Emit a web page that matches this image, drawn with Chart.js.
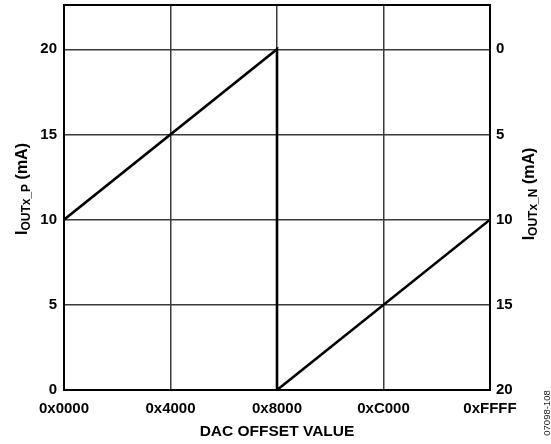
<!DOCTYPE html>
<html>
<head>
<meta charset="utf-8">
<script src="https://cdn.jsdelivr.net/npm/chart.js@4/dist/chart.umd.min.js"></script>
<style>
  html, body { margin: 0; padding: 0; background: #fff; }
  #wrap { width: 551px; height: 444px; }
</style>
</head>
<body>
<div id="wrap"><canvas id="chart" width="551" height="444"></canvas></div>
<script>
// DAC offset code vs output current (IOUTx_P on left, IOUTx_N = 20 - P on right)
const dacCodes = [0, 32768, 32768, 65535];
const ioutP = [10, 20, 0, 10];

const xTickValues = [0, 16384, 32768, 49152, 65535];
const xTickLabels = ['0x0000', '0x4000', '0x8000', '0xC000', '0xFFFF'];
const leftTicks = [0, 5, 10, 15, 20];
const rightTicks = [0, 5, 10, 15, 20];

const FONT = '"Liberation Sans", Arial, Helvetica, sans-serif';
const GRID = '#3a3a3a';

// draws the rotated axis titles with subscripts, the frame and the figure code
const extrasPlugin = {
    id: 'extras',
    afterDraw(chart) {
        const ctx = chart.ctx;
        const area = chart.chartArea;

        ctx.save();
        ctx.strokeStyle = '#000';
        ctx.lineWidth = 2;
        ctx.strokeRect(area.left, area.top, area.right - area.left, area.bottom - area.top);
        ctx.restore();

        drawSubTitle(ctx, 23, 189, 'I', 'OUTx_P', ' (mA)');
        drawSubTitle(ctx, 530, 194, 'I', 'OUTx_N', ' (mA)');

        ctx.save();
        ctx.fillStyle = '#000';
        ctx.font = 'bold 15.5px ' + FONT;
        ctx.textAlign = 'center';
        ctx.textBaseline = 'middle';
        ctx.fillText('DAC OFFSET VALUE', (area.left + area.right) / 2, 432);
        ctx.restore();

        ctx.save();
        ctx.translate(547, 413);
        ctx.rotate(-Math.PI / 2);
        ctx.fillStyle = '#222';
        ctx.font = '9.5px ' + FONT;
        ctx.textAlign = 'center';
        ctx.textBaseline = 'middle';
        ctx.fillText('07098-108', 0, 0);
        ctx.restore();
    }
};

function drawSubTitle(ctx, cx, cy, main, sub, rest) {
    const big = 'bold 16px ' + FONT;
    const small = 'bold 12px ' + FONT;
    ctx.save();
    ctx.translate(cx, cy);
    ctx.rotate(-Math.PI / 2);
    ctx.fillStyle = '#000';
    ctx.textBaseline = 'middle';
    ctx.textAlign = 'left';
    ctx.font = big;
    const w1 = ctx.measureText(main).width;
    const w3 = ctx.measureText(rest).width;
    ctx.font = small;
    const w2 = ctx.measureText(sub).width;
    let x = -(w1 + w2 + w3) / 2;
    ctx.font = big;
    ctx.fillText(main, x, 0);
    x += w1;
    ctx.font = small;
    ctx.fillText(sub, x, 4);
    x += w2;
    ctx.font = big;
    ctx.fillText(rest, x, 0);
    ctx.restore();
}

function noPad(s) {
    s.paddingTop = 0;
    s.paddingBottom = 0;
    s.paddingLeft = 0;
    s.paddingRight = 0;
}

new Chart(document.getElementById('chart'), {
    type: 'line',
    data: {
        datasets: [{
            label: 'IOUTx_P',
            data: dacCodes.map((c, i) => ({ x: c, y: ioutP[i] })),
            borderColor: '#000',
            borderWidth: 2.6,
            pointRadius: 0,
            tension: 0,
            fill: false,
            yAxisID: 'y'
        }]
    },
    options: {
        responsive: false,
        animation: false,
        events: [],
        layout: { padding: { top: 5, left: 0, right: 0, bottom: 0 } },
        plugins: {
            legend: { display: false },
            tooltip: { enabled: false }
        },
        scales: {
            x: {
                type: 'linear',
                min: 0,
                max: 65535,
                afterBuildTicks: s => { s.ticks = xTickValues.map(v => ({ value: v })); },
                afterFit: s => { s.height = 54; noPad(s); },
                grid: { color: GRID, lineWidth: 1.5, drawTicks: false },
                border: { display: false },
                ticks: {
                    padding: 10,
                    color: '#000',
                    font: { family: FONT, size: 15, weight: 'bold' },
                    maxRotation: 0,
                    autoSkip: false,
                    callback: v => xTickLabels[xTickValues.indexOf(v)]
                }
            },
            y: {
                position: 'left',
                min: 0,
                max: 22.6,
                afterBuildTicks: s => { s.ticks = leftTicks.map(v => ({ value: v })); },
                afterFit: s => { s.width = 64; noPad(s); },
                grid: { color: GRID, lineWidth: 1.5, drawTicks: false },
                border: { display: false },
                ticks: {
                    padding: 7,
                    color: '#000',
                    font: { family: FONT, size: 15, weight: 'bold' }
                }
            },
            y2: {
                position: 'right',
                reverse: true,
                min: -2.6,
                max: 20,
                afterBuildTicks: s => { s.ticks = rightTicks.map(v => ({ value: v })); },
                afterFit: s => { s.width = 61; noPad(s); },
                grid: { display: false, drawTicks: false },
                border: { display: false },
                ticks: {
                    padding: 6,
                    color: '#000',
                    font: { family: FONT, size: 15, weight: 'bold' }
                }
            }
        }
    },
    plugins: [extrasPlugin]
});
</script>
</body>
</html>
